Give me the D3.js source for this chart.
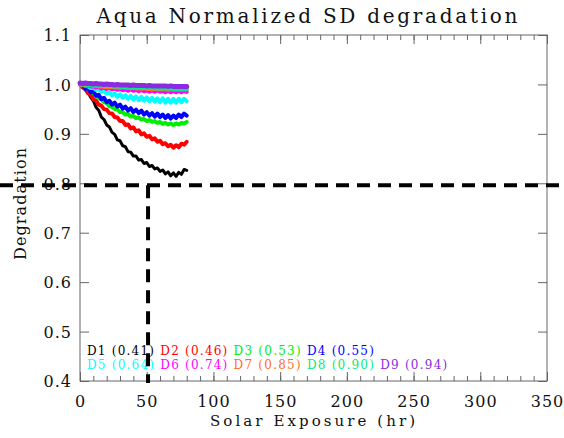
<!DOCTYPE html>
<html>
<head>
<meta charset="utf-8">
<script src="https://cdn.jsdelivr.net/npm/d3@7"></script>
<style>
  body { margin: 0; background: #fff; }
  text { font-family: "DejaVu Serif", serif; fill: #111; }
</style>
</head>
<body>
<svg id="chart" width="564" height="438"></svg>
<script>
// solar exposure (hr) of each measurement
const hours = [0, 2, 4, 6, 8, 10, 12, 14, 16, 18, 20, 22, 24, 26, 28, 30, 32, 34, 36, 38, 40,
               42, 44, 46, 48, 50, 52, 54, 56, 58, 60, 62, 64, 66, 68, 70, 72, 74, 76, 78, 80];

const d1 = [1.000, 0.996, 0.989, 0.984, 0.974, 0.967, 0.954, 0.948, 0.934, 0.929, 0.918, 0.914, 0.903, 0.899,
            0.888, 0.886, 0.876, 0.874, 0.864, 0.863, 0.855, 0.855, 0.847, 0.848, 0.840, 0.842, 0.834, 0.836,
            0.829, 0.831, 0.824, 0.827, 0.819, 0.823, 0.815, 0.821, 0.814, 0.822, 0.818, 0.828, 0.826];
const d2 = [1.000, 0.994, 0.991, 0.982, 0.979, 0.970, 0.967, 0.959, 0.957, 0.950, 0.949, 0.942, 0.941, 0.934,
            0.933, 0.926, 0.926, 0.918, 0.919, 0.911, 0.913, 0.905, 0.907, 0.899, 0.901, 0.894, 0.896, 0.889,
            0.891, 0.884, 0.886, 0.879, 0.881, 0.875, 0.878, 0.872, 0.877, 0.873, 0.880, 0.878, 0.884];
const d3v = [1.000, 0.997, 0.995, 0.990, 0.988, 0.982, 0.979, 0.972, 0.970, 0.964, 0.962, 0.956, 0.955, 0.950,
             0.949, 0.944, 0.944, 0.939, 0.940, 0.935, 0.936, 0.932, 0.933, 0.929, 0.930, 0.926, 0.928, 0.924,
             0.926, 0.922, 0.924, 0.920, 0.922, 0.919, 0.921, 0.918, 0.921, 0.919, 0.922, 0.921, 0.924];
const d4 = [1.000, 1.000, 0.991, 0.993, 0.984, 0.986, 0.977, 0.979, 0.970, 0.973, 0.964, 0.967, 0.959, 0.963,
            0.955, 0.959, 0.951, 0.955, 0.947, 0.952, 0.944, 0.949, 0.942, 0.947, 0.939, 0.944, 0.937, 0.942,
            0.935, 0.941, 0.934, 0.939, 0.932, 0.938, 0.931, 0.937, 0.932, 0.939, 0.934, 0.941, 0.937];
const d5 = [1.000, 0.999, 0.997, 0.996, 0.993, 0.993, 0.989, 0.990, 0.985, 0.987, 0.981, 0.984, 0.978, 0.982,
            0.975, 0.980, 0.973, 0.978, 0.971, 0.977, 0.969, 0.976, 0.968, 0.975, 0.967, 0.974, 0.966, 0.973,
            0.965, 0.972, 0.964, 0.972, 0.963, 0.971, 0.963, 0.971, 0.963, 0.971, 0.964, 0.971, 0.966];
const d6 = [1.000, 0.999, 0.998, 0.997, 0.996, 0.996, 0.994, 0.995, 0.992, 0.994, 0.991, 0.993, 0.990, 0.992,
            0.989, 0.991, 0.988, 0.990, 0.987, 0.990, 0.987, 0.989, 0.986, 0.989, 0.986, 0.988, 0.985, 0.988,
            0.985, 0.988, 0.985, 0.987, 0.984, 0.987, 0.984, 0.987, 0.984, 0.987, 0.984, 0.987, 0.985];
const d7 = [1.000, 0.999, 0.999, 0.998, 0.998, 0.997, 0.997, 0.996, 0.996, 0.995, 0.995, 0.994, 0.995, 0.994,
            0.994, 0.993, 0.994, 0.993, 0.993, 0.992, 0.993, 0.992, 0.992, 0.991, 0.992, 0.991, 0.991, 0.990,
            0.991, 0.990, 0.990, 0.990, 0.990, 0.989, 0.990, 0.989, 0.989, 0.989, 0.989, 0.989, 0.989];
const d8 = [1.001, 1.000, 1.000, 0.999, 0.999, 0.999, 0.998, 0.998, 0.998, 0.997, 0.997, 0.997, 0.996, 0.996,
            0.996, 0.995, 0.995, 0.995, 0.995, 0.994, 0.994, 0.994, 0.994, 0.993, 0.993, 0.993, 0.993, 0.993,
            0.992, 0.992, 0.992, 0.992, 0.992, 0.992, 0.991, 0.991, 0.991, 0.991, 0.991, 0.991, 0.991];
const d9 = [1.003, 1.002, 1.003, 1.002, 1.002, 1.001, 1.002, 1.001, 1.001, 1.000, 1.001, 1.000, 1.000, 0.999,
            1.000, 0.999, 0.999, 0.999, 0.999, 0.998, 0.999, 0.998, 0.998, 0.998, 0.998, 0.997, 0.998, 0.997,
            0.997, 0.997, 0.997, 0.997, 0.997, 0.996, 0.997, 0.996, 0.996, 0.996, 0.996, 0.996, 0.996];

const detectors   = ["D1", "D2", "D3", "D4", "D5", "D6", "D7", "D8", "D9"];
const wavelengths = ["0.41", "0.46", "0.53", "0.55", "0.64", "0.74", "0.85", "0.90", "0.94"];
const colors      = ["#000000", "#ff0000", "#00ee00", "#0000ff", "#00ffff", "#ff00ff", "#ff7020", "#00ee80", "#8a2be2"];
const seriesVals  = [d1, d2, d3v, d4, d5, d6, d7, d8, d9];

const xTicks = [0, 50, 100, 150, 200, 250, 300, 350];
const yTicks = [0.4, 0.5, 0.6, 0.7, 0.8, 0.9, 1.0, 1.1];
const threshold = 0.796;   // dashed horizontal level
const markHour = 51;       // dashed vertical marker

let margin = {top: 35, right: 17, bottom: 57, left: 80},
    W = 564, H = 438,
    width = W - margin.left - margin.right,
    height = H - margin.top - margin.bottom;

let svg = d3.select("#chart");
svg.append("rect").attr("width", W).attr("height", H).attr("fill", "#fff");

let g = svg.append("g")
    .attr("transform", "translate(" + margin.left + "," + margin.top + ")");

let x = d3.scaleLinear().domain([0, 350]).range([0, width]);
let y = d3.scaleLinear().domain([0.4, 1.1]).range([height, 0]);

// axes: ticks point inward like the IDL frame
function styleAxis(sel) {
    sel.select(".domain").remove();
    sel.selectAll("line").attr("stroke", "#666");
}

g.append("g")
    .attr("transform", "translate(0," + height + ")")
    .call(d3.axisBottom(x).tickValues(d3.range(0, 351, 10)).tickSize(-5).tickFormat(""))
    .call(styleAxis);
g.append("g")
    .call(d3.axisTop(x).tickValues(d3.range(0, 351, 10)).tickSize(-5).tickFormat(""))
    .call(styleAxis);

let xAxis = g.append("g")
    .attr("transform", "translate(0," + height + ")")
    .call(d3.axisBottom(x).tickValues(xTicks).tickSize(-9).tickFormat(d3.format("d")))
    .call(styleAxis);
xAxis.selectAll("text")
    .attr("y", 26).attr("dy", 0)
    .style("font-size", "16px").style("letter-spacing", "1px")
    .attr("fill", "#111");

g.append("g")
    .call(d3.axisTop(x).tickValues(xTicks).tickSize(-9).tickFormat(""))
    .call(styleAxis);

let yAxis = g.append("g")
    .call(d3.axisLeft(y).tickValues(yTicks).tickSize(-9).tickFormat(d3.format(".1f")))
    .call(styleAxis);
yAxis.selectAll("text")
    .attr("x", -8).attr("dy", "0.36em")
    .style("font-size", "16px").style("letter-spacing", "1px")
    .attr("fill", "#111");

g.append("g")
    .attr("transform", "translate(" + width + ",0)")
    .call(d3.axisRight(y).tickValues(yTicks).tickSize(-9).tickFormat(""))
    .call(styleAxis);

g.append("rect")
    .attr("width", width).attr("height", height)
    .attr("fill", "none").attr("stroke", "#666").attr("stroke-width", 1);

// degradation curves
let line = d3.line()
    .x(function (d, i) { return x(hours[i]); })
    .y(function (d) { return y(d); });

g.selectAll(".curve")
    .data(seriesVals)
    .enter().append("path")
    .attr("class", "curve")
    .attr("d", function (d) { return line(d); })
    .attr("fill", "none")
    .attr("stroke", function (d, i) { return colors[i]; })
    .attr("stroke-width", function (d, i) { return i == 8 ? 5 : (i == 0 ? 3 : 4); })
    .attr("stroke-linejoin", "round")
    .attr("stroke-linecap", "round");

// legend in two rows
let legX = d3.scaleLinear().domain([0, 1]).range([7, 80.3]);
g.selectAll(".leg")
    .data(detectors)
    .enter().append("text")
    .attr("class", "leg")
    .attr("x", function (d, i) { return legX(i < 4 ? i : i - 4); })
    .attr("y", function (d, i) { return i < 4 ? height - 26 : height - 12; })
    .attr("textLength", 67)
    .attr("lengthAdjust", "spacing")
    .style("font-size", "12px")
    .style("fill", function (d, i) { return colors[i]; })
    .text(function (d, i) { return d + " (" + wavelengths[i] + ")"; });

// dashed reference lines (drawn unclipped across the page)
svg.append("line")
    .attr("x1", 0).attr("x2", W)
    .attr("y1", margin.top + y(threshold)).attr("y2", margin.top + y(threshold))
    .attr("stroke", "#000").attr("stroke-width", 4)
    .attr("stroke-dasharray", "13,8");

g.append("line")
    .attr("x1", x(markHour)).attr("x2", x(markHour))
    .attr("y1", y(threshold)).attr("y2", y(0.396))
    .attr("stroke", "#000").attr("stroke-width", 4)
    .attr("stroke-dasharray", "13,8");

// titles
svg.append("text")
    .attr("x", 307).attr("y", 23)
    .attr("text-anchor", "middle")
    .attr("textLength", 421).attr("lengthAdjust", "spacing")
    .style("font-size", "20px")
    .text("Aqua Normalized SD degradation");

svg.append("text")
    .attr("x", margin.left + width / 2 - 1).attr("y", 426)
    .attr("text-anchor", "middle")
    .attr("textLength", 205).attr("lengthAdjust", "spacing")
    .style("font-size", "15px")
    .text("Solar Exposure (hr)");

svg.append("text")
    .attr("transform", "translate(26," + (margin.top + height / 2 - 4) + ") rotate(-90)")
    .attr("text-anchor", "middle")
    .attr("textLength", 112).attr("lengthAdjust", "spacing")
    .style("font-size", "16px")
    .text("Degradation");
</script>
</body>
</html>
